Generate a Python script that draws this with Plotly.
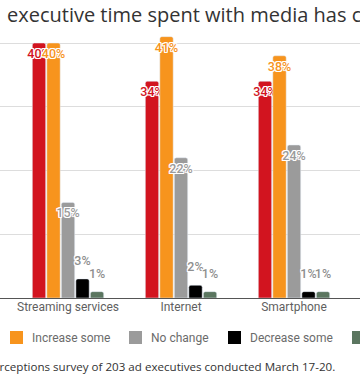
import plotly.graph_objects as go

# ---- data ----
categories = ["Streaming services", "Internet", "Smartphone"]
series_names = ["Increase significantly", "Increase some", "No change",
                "Decrease some", "Decrease significantly"]
increase_significantly = [40, 34, 34]
increase_some = [40, 41, 38]
no_change = [15, 22, 24]
decrease_some = [3, 2, 1]
decrease_significantly = [1, 1, 1]
series_values = [increase_significantly, increase_some, no_change,
                 decrease_some, decrease_significantly]
colors = ["#d2141f", "#f7941d", "#9b9b9b", "#000000", "#5b7660"]
title_text = "executive time spent with media has changed"
source_text = "Perceptions survey of 203 ad executives conducted March 17-20."

# ---- geometry ----
W, H = 360, 375
ML, MR, MT, MB = 0, 0, 30, 77
PH = H - MT - MB
BASE = H - MB  # pixel row of the baseline
GAP = 0.358


def px_x(px):
    return (px - ML) / (W - ML - MR)


def px_y(py):
    return (BASE - py) / PH


outline = ("1px 0 0 #fff, -1px 0 0 #fff, 0 1px 0 #fff, 0 -1px 0 #fff, "
           "1px 1px 0 #fff, -1px -1px 0 #fff, 1px -1px 0 #fff, -1px 1px 0 #fff")
label_font = dict(family="Roboto", size=12.5, shadow=outline, weight=500)

fig = go.Figure()
# bars with labels inside the top of tall bars
for name, vals, col in zip(series_names, series_values, colors):
    fig.add_trace(go.Bar(
        x=categories, y=vals, name=name, marker_color=col,
        text=[f"{v}%" if v >= 10 else "" for v in vals],
        textposition="inside",
        insidetextanchor="end", textangle=0, constraintext="none",
        insidetextfont=dict(label_font, color=col),
        cliponaxis=False, showlegend=False, hoverinfo="skip",
    ))
# labels above short bars (grouped the same way as the bars)
for name, vals, col in zip(series_names, series_values, colors):
    fig.add_trace(go.Scatter(
        x=categories, y=vals, name=name, mode="markers+text",
        text=[f"{v}%" if v < 10 else "" for v in vals],
        textposition="top center",
        textfont=dict(label_font, color="#8f8f8f"),
        marker=dict(size=16, opacity=0, color=col),
        cliponaxis=False, showlegend=False, hoverinfo="skip",
    ))

# ---- manual legend (row partly outside the visible window) ----
legend_square_x = [-150, 10, 129, 228, 352]
shapes = []
annotations = []
for name, col, sx in zip(series_names, colors, legend_square_x):
    shapes.append(dict(type="rect", xref="paper", yref="paper",
                       x0=px_x(sx), x1=px_x(sx + 13), y0=px_y(344), y1=px_y(331),
                       fillcolor=col, line=dict(width=0)))
    annotations.append(dict(text=name, xref="paper", yref="paper",
                            x=px_x(sx + 20), y=px_y(337.5), xanchor="left", yanchor="middle",
                            showarrow=False,
                            font=dict(family="Roboto", size=12, color="#6b6b6b")))

annotations.append(dict(text=title_text, xref="paper", yref="paper",
                        x=px_x(5), y=px_y(15), xanchor="left", yanchor="middle",
                        showarrow=False,
                        font=dict(family="Open Sans", size=20, color="#333333")))
annotations.append(dict(text=source_text, xref="paper", yref="paper",
                        x=px_x(-16), y=px_y(366), xanchor="left", yanchor="middle",
                        showarrow=False,
                        font=dict(family="Open Sans", size=11.6, color="#333333")))

fig.update_layout(
    width=W, height=H,
    margin=dict(l=ML, r=MR, t=MT, b=MB),
    paper_bgcolor="white", plot_bgcolor="white",
    barmode="group", bargap=GAP, bargroupgap=0.08, barcornerradius=2,
    scattermode="group", scattergap=GAP,
    xaxis=dict(type="category", range=[-0.602, 2.584], showgrid=False, ticks="",
               tickfont=dict(family="Roboto", size=12, color="#5f5f5f"),
               showline=False, zeroline=False),
    yaxis=dict(range=[0, PH / 6.375], dtick=10, showticklabels=False, ticks="",
               gridcolor="#dddddd", gridwidth=1, zeroline=True,
               zerolinecolor="#555555", zerolinewidth=1),
    shapes=shapes, annotations=annotations,
    showlegend=False,
)

fig.write_html(
    "out.html",
    config={"displayModeBar": False},
    post_script="document.body.style.margin='0';document.body.style.overflow='hidden';",
)
